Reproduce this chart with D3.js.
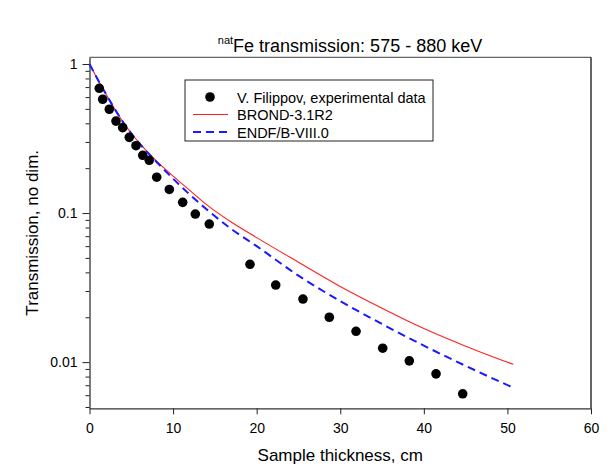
<!DOCTYPE html>
<html>
<head>
<meta charset="utf-8">
<script src="https://cdn.jsdelivr.net/npm/d3@7"></script>
<style>
  body { margin: 0; background: #fff; }
  text { font-family: Arial, "Liberation Sans", sans-serif; fill: #000; }
</style>
</head>
<body>
<div id="chart"></div>
<script>
(function() {
  'use strict';

  // experimental points (thickness cm, transmission)
  var expX = [1.17, 1.58, 2.37, 3.17, 3.97, 4.76, 5.56, 6.37, 7.15, 8.04, 9.55, 11.15,
    12.66, 14.33, 19.2, 22.28, 25.54, 28.69, 31.89, 35.08, 38.26, 41.46, 44.65];
  var expT = [0.687, 0.580, 0.497, 0.414, 0.374, 0.322, 0.283, 0.244, 0.226, 0.174, 0.144, 0.118,
    0.0985, 0.0844, 0.0453, 0.0329, 0.0265, 0.0200, 0.0161, 0.0124, 0.0102, 0.00834, 0.00613];

  // evaluated curves
  var curveX = [0, 1, 2, 3, 4, 5, 6, 8, 10, 12, 14, 17, 20, 25, 30, 35, 40, 45, 50.7];
  var brondT = [1, 0.785, 0.624, 0.501, 0.409, 0.343, 0.293, 0.224, 0.177, 0.142, 0.114,
    0.0867, 0.0684, 0.0468, 0.0322, 0.0230, 0.0168, 0.0128, 0.00966];
  var endfT = [1, 0.785, 0.624, 0.501, 0.409, 0.342, 0.292, 0.221, 0.170, 0.133, 0.106,
    0.0780, 0.0600, 0.0380, 0.0257, 0.0180, 0.0129, 0.00944, 0.00673];

  var xTicks = [0, 10, 20, 30, 40, 50, 60];
  var yTicks = [0.01, 0.1, 1];
  var yTickLabels = ['0.01', '0.1', '1'];
  var yMinor = [0.005, 0.006, 0.007, 0.008, 0.009, 0.02, 0.03, 0.04, 0.05, 0.06, 0.07, 0.08, 0.09,
    0.2, 0.3, 0.4, 0.5, 0.6, 0.7, 0.8, 0.9];

  var legendNames = ['V. Filippov, experimental data', 'BROND-3.1R2', 'ENDF/B-VIII.0'];

  var width = 614;
  var height = 468;
  var left = 89.5, right = 591, top = 57.3, bottom = 408.3;

  var svg = d3.select('#chart')
    .append('svg')
    .attr('width', width)
    .attr('height', height);

  var x = d3.scaleLinear().domain([0, 60]).range([left, right]);
  var y = d3.scaleLog().domain([0.0049, 1.109]).range([bottom, top]);

  // frame (top + right)
  svg.append('line')
    .attr('x1', left).attr('x2', right).attr('y1', top).attr('y2', top)
    .attr('stroke', '#666').attr('stroke-width', 1.3);
  svg.append('line')
    .attr('x1', right).attr('x2', right).attr('y1', top).attr('y2', bottom)
    .attr('stroke', '#111').attr('stroke-width', 1.3);

  // x axis
  var xAxis = d3.axisBottom(x)
    .tickValues(xTicks)
    .tickSize(6)
    .tickSizeOuter(0)
    .tickPadding(9)
    .tickFormat(d3.format('d'));

  var gx = svg.append('g')
    .attr('transform', 'translate(0,' + bottom + ')')
    .call(xAxis);
  gx.select('.domain').attr('stroke', '#333').attr('stroke-width', 1.3);
  gx.selectAll('.tick line').attr('stroke', '#222');
  gx.selectAll('.tick text')
    .style('font-size', '14px')
    .style('font-family', 'Arial, "Liberation Sans", sans-serif');

  // y axis
  var yAxis = d3.axisLeft(y)
    .tickValues(yTicks)
    .tickSize(7)
    .tickSizeOuter(0)
    .tickPadding(5)
    .tickFormat(function(d, i) { return yTickLabels[i]; });

  var gy = svg.append('g')
    .attr('transform', 'translate(' + left + ',0)')
    .call(yAxis);
  gy.select('.domain').attr('stroke', '#333').attr('stroke-width', 1.3);
  gy.selectAll('.tick line').attr('stroke', '#222');
  gy.selectAll('.tick text')
    .style('font-size', '14px')
    .style('font-family', 'Arial, "Liberation Sans", sans-serif');

  var gyMinor = svg.append('g')
    .attr('transform', 'translate(' + left + ',0)')
    .call(d3.axisLeft(y).tickValues(yMinor).tickSize(4).tickSizeOuter(0).tickFormat(''));
  gyMinor.select('.domain').remove();
  gyMinor.selectAll('.tick line').attr('stroke', '#222');

  // curves
  var line = function(ys) {
    return d3.line()
      .x(function(d, i) { return x(curveX[i]); })
      .y(function(d) { return y(d); })
      .curve(d3.curveMonotoneX)(ys);
  };

  svg.append('path')
    .attr('d', line(brondT))
    .attr('fill', 'none')
    .attr('stroke', '#ff2020')
    .attr('stroke-width', 1.1);

  svg.append('path')
    .attr('d', line(endfT))
    .attr('fill', 'none')
    .attr('stroke', '#1a1aff')
    .attr('stroke-width', 2)
    .attr('stroke-dasharray', '8,5');

  // points
  svg.append('g')
    .selectAll('circle')
    .data(expX)
    .enter()
    .append('circle')
    .attr('cx', function(d) { return x(d); })
    .attr('cy', function(d, i) { return y(expT[i]); })
    .attr('r', 4.8)
    .attr('fill', '#000');

  // legend
  var lg = svg.append('g').attr('transform', 'translate(185,80)');
  lg.append('rect')
    .attr('width', 248).attr('height', 61)
    .attr('fill', '#fff').attr('stroke', '#222').attr('stroke-width', 1);
  lg.append('circle').attr('cx', 25).attr('cy', 17).attr('r', 4.8).attr('fill', '#000');
  lg.append('line').attr('x1', 8).attr('x2', 43).attr('y1', 34.5).attr('y2', 34.5)
    .attr('stroke', '#ff2020').attr('stroke-width', 1.1);
  lg.append('line').attr('x1', 8).attr('x2', 45).attr('y1', 52).attr('y2', 52)
    .attr('stroke', '#1a1aff').attr('stroke-width', 2).attr('stroke-dasharray', '8,5');
  lg.selectAll('text.leg')
    .data(legendNames)
    .enter()
    .append('text')
    .attr('class', 'leg')
    .attr('x', 52)
    .attr('y', function(d, i) { return 22.5 + i * 17.5; })
    .style('font-size', '14.5px')
    .text(function(d) { return d; });

  // titles
  var title = svg.append('text')
    .attr('x', 350)
    .attr('y', 52)
    .attr('text-anchor', 'middle')
    .style('font-size', '18px');
  title.append('tspan')
    .attr('dy', '-8')
    .style('font-size', '11px')
    .text('nat');
  title.append('tspan')
    .attr('dy', '8')
    .text('Fe transmission: 575 - 880 keV');

  svg.append('text')
    .attr('x', (left + right) / 2)
    .attr('y', 461)
    .attr('text-anchor', 'middle')
    .style('font-size', '17px')
    .text('Sample thickness, cm');

  svg.append('text')
    .attr('transform', 'translate(38,' + ((top + bottom) / 2) + ') rotate(-90)')
    .attr('text-anchor', 'middle')
    .style('font-size', '17px')
    .text('Transmission, no dim.');
})();
</script>
</body>
</html>
